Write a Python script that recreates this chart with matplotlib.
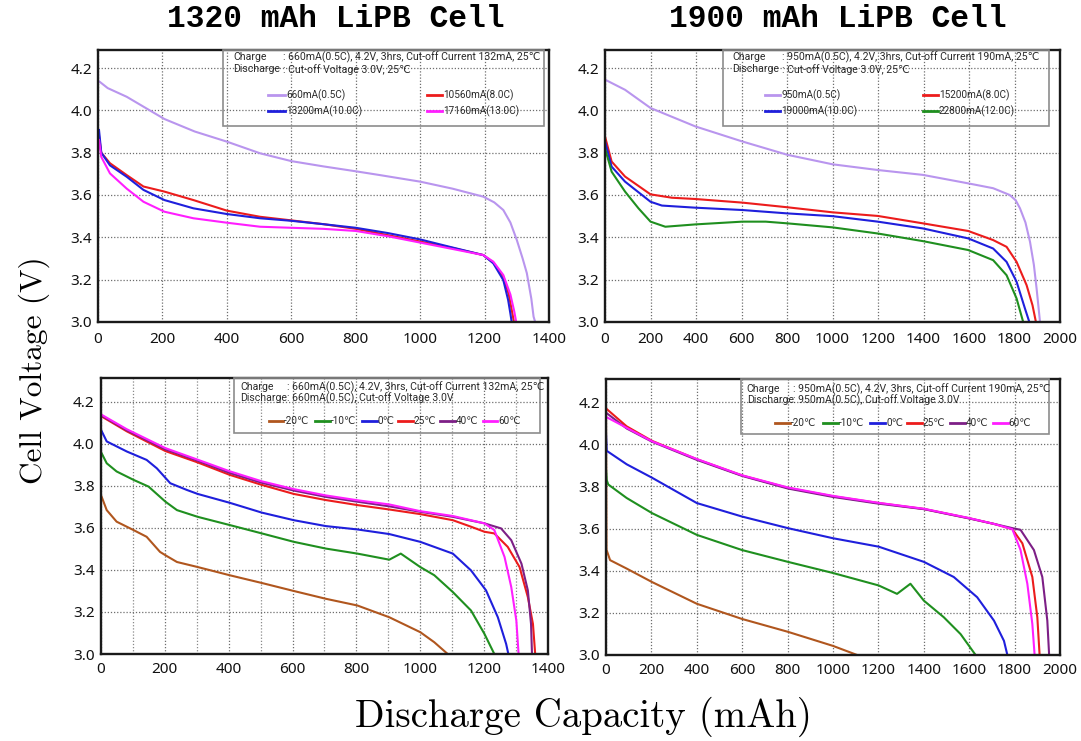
import matplotlib
matplotlib.use("Agg")
import matplotlib.pyplot as plt
from matplotlib.lines import Line2D
from matplotlib.patches import Rectangle

# ---------------- data: 1320 mAh cell, rate test ----------------
c1_rate_labels = ["660mA(0.5C)", "10560mA(8.0C)", "13200mA(10.0C)", "17160mA(13.0C)"]
c1_x_05C = [5, 30, 89, 206, 300, 400, 503, 600, 700, 800, 875, 1000, 1100, 1196, 1230, 1258, 1280, 1300, 1318, 1331, 1345, 1352, 1357]
c1_v_05C = [4.135, 4.105, 4.064, 3.959, 3.90, 3.852, 3.797, 3.76, 3.735, 3.712, 3.694, 3.663, 3.63, 3.592, 3.565, 3.529, 3.47, 3.387, 3.30, 3.231, 3.11, 3.025, 3.0]
c1_x_8C = [3, 10, 37, 89, 141, 206, 296, 400, 503, 600, 700, 800, 900, 1000, 1100, 1196, 1227, 1258, 1275, 1285, 1291]
c1_v_8C = [3.88, 3.80, 3.75, 3.694, 3.64, 3.616, 3.576, 3.526, 3.497, 3.48, 3.462, 3.44, 3.41, 3.38, 3.35, 3.316, 3.28, 3.215, 3.13, 3.05, 3.0]
c1_x_10C = [3, 10, 37, 89, 141, 206, 296, 400, 503, 600, 700, 800, 900, 1000, 1100, 1196, 1227, 1258, 1273, 1280, 1284]
c1_v_10C = [3.907, 3.80, 3.74, 3.686, 3.624, 3.576, 3.537, 3.51, 3.49, 3.478, 3.462, 3.445, 3.42, 3.39, 3.352, 3.316, 3.277, 3.198, 3.104, 3.04, 3.0]
c1_x_13C = [3, 10, 37, 89, 141, 206, 296, 400, 503, 600, 700, 800, 900, 1000, 1100, 1196, 1227, 1258, 1280, 1292, 1298]
c1_v_13C = [3.86, 3.78, 3.702, 3.63, 3.568, 3.521, 3.49, 3.469, 3.45, 3.445, 3.44, 3.43, 3.405, 3.375, 3.345, 3.316, 3.285, 3.222, 3.13, 3.05, 3.0]

# ---------------- data: 1900 mAh cell, rate test ----------------
c2_rate_labels = ["950mA(0.5C)", "15200mA(8.0C)", "19000mA(10.0C)", "22800mA(12.0C)"]
c2_x_05C = [0, 88, 200, 397, 603, 801, 1000, 1199, 1397, 1596, 1706, 1779, 1805, 1824, 1848, 1868, 1885, 1897, 1912]
c2_v_05C = [4.145, 4.097, 4.011, 3.924, 3.853, 3.79, 3.745, 3.718, 3.695, 3.655, 3.632, 3.60, 3.575, 3.537, 3.47, 3.379, 3.27, 3.158, 3.0]
c2_x_8C = [0, 29, 88, 200, 294, 397, 603, 801, 1000, 1199, 1397, 1596, 1706, 1765, 1809, 1853, 1879, 1894]
c2_v_8C = [3.876, 3.758, 3.687, 3.603, 3.587, 3.581, 3.564, 3.542, 3.518, 3.501, 3.466, 3.43, 3.387, 3.355, 3.284, 3.174, 3.079, 3.0]
c2_x_10C = [0, 29, 88, 200, 250, 397, 603, 801, 1000, 1199, 1397, 1596, 1706, 1765, 1809, 1846, 1865]
c2_v_10C = [3.853, 3.734, 3.663, 3.568, 3.55, 3.54, 3.529, 3.513, 3.50, 3.474, 3.442, 3.395, 3.347, 3.284, 3.19, 3.063, 3.0]
c2_x_12C = [0, 29, 88, 147, 200, 265, 397, 603, 706, 801, 1000, 1199, 1397, 1596, 1706, 1765, 1809, 1838]
c2_v_12C = [3.82, 3.71, 3.616, 3.537, 3.474, 3.45, 3.461, 3.474, 3.474, 3.466, 3.447, 3.418, 3.382, 3.34, 3.292, 3.221, 3.111, 3.0]

# ---------------- data: 1320 mAh cell, temperature test ----------------
temp_labels = ["-20℃", "-10℃", "0℃", "25℃", "40℃", "60℃"]
c1_x_m20 = [2, 18, 49, 102, 143, 185, 202, 238, 303, 403, 504, 604, 704, 803, 903, 1000, 1044, 1086]
c1_v_m20 = [3.749, 3.685, 3.63, 3.59, 3.558, 3.486, 3.47, 3.438, 3.414, 3.375, 3.338, 3.30, 3.263, 3.231, 3.175, 3.104, 3.056, 3.0]
c1_x_m10 = [2, 18, 49, 102, 149, 202, 238, 303, 403, 504, 604, 704, 803, 903, 939, 1000, 1044, 1102, 1159, 1201, 1232]
c1_v_m10 = [3.956, 3.908, 3.869, 3.829, 3.797, 3.725, 3.685, 3.653, 3.614, 3.574, 3.534, 3.502, 3.478, 3.449, 3.478, 3.414, 3.375, 3.295, 3.207, 3.096, 3.0]
c1_x_0 = [0, 18, 81, 143, 175, 217, 269, 303, 403, 504, 604, 704, 803, 903, 1000, 1102, 1159, 1206, 1243, 1269, 1276]
c1_v_0 = [4.068, 4.012, 3.964, 3.924, 3.884, 3.813, 3.781, 3.762, 3.72, 3.673, 3.637, 3.609, 3.593, 3.571, 3.534, 3.478, 3.398, 3.303, 3.175, 3.048, 3.0]
c1_x_25 = [2, 81, 202, 303, 403, 504, 604, 704, 803, 903, 1000, 1102, 1159, 1201, 1232, 1274, 1311, 1337, 1353, 1360]
c1_v_25 = [4.131, 4.06, 3.966, 3.912, 3.853, 3.805, 3.762, 3.733, 3.709, 3.688, 3.666, 3.637, 3.606, 3.582, 3.574, 3.51, 3.414, 3.271, 3.143, 3.0]
c1_x_40 = [2, 81, 202, 303, 403, 504, 604, 704, 803, 903, 1000, 1102, 1201, 1253, 1285, 1317, 1337, 1347, 1350]
c1_v_40 = [4.135, 4.065, 3.974, 3.92, 3.862, 3.815, 3.778, 3.748, 3.725, 3.703, 3.677, 3.653, 3.622, 3.598, 3.542, 3.43, 3.303, 3.143, 3.0]
c1_x_60 = [2, 81, 202, 303, 403, 504, 604, 704, 803, 903, 1000, 1102, 1201, 1232, 1264, 1285, 1301, 1308]
c1_v_60 = [4.139, 4.07, 3.98, 3.925, 3.87, 3.822, 3.785, 3.755, 3.732, 3.712, 3.68, 3.657, 3.622, 3.59, 3.462, 3.319, 3.159, 3.0]

# ---------------- data: 1900 mAh cell, temperature test ----------------
c2_x_m20 = [0, 2, 18, 91, 203, 400, 599, 801, 1000, 1106]
c2_v_m20 = [4.18, 3.50, 3.45, 3.41, 3.346, 3.243, 3.171, 3.11, 3.043, 3.0]
c2_x_m10 = [0, 3, 10, 91, 203, 400, 599, 801, 1000, 1201, 1282, 1341, 1400, 1488, 1562, 1628]
c2_v_m10 = [3.88, 3.83, 3.809, 3.745, 3.673, 3.57, 3.498, 3.442, 3.389, 3.33, 3.29, 3.338, 3.258, 3.179, 3.099, 3.0]
c2_x_0 = [0, 3, 91, 203, 400, 599, 801, 1000, 1201, 1400, 1532, 1635, 1709, 1753, 1768]
c2_v_0 = [4.05, 3.969, 3.905, 3.841, 3.721, 3.657, 3.602, 3.554, 3.514, 3.442, 3.37, 3.274, 3.163, 3.067, 3.0]
c2_x_25 = [0, 91, 203, 400, 599, 801, 1000, 1201, 1400, 1599, 1709, 1790, 1834, 1878, 1900, 1910]
c2_v_25 = [4.17, 4.085, 4.016, 3.929, 3.852, 3.793, 3.753, 3.721, 3.693, 3.649, 3.622, 3.597, 3.53, 3.37, 3.179, 3.0]
c2_x_40 = [0, 91, 203, 400, 599, 801, 1000, 1201, 1400, 1599, 1709, 1790, 1826, 1885, 1922, 1944, 1952]
c2_v_40 = [4.15, 4.075, 4.012, 3.926, 3.85, 3.79, 3.75, 3.718, 3.692, 3.648, 3.622, 3.602, 3.594, 3.498, 3.37, 3.163, 3.0]
c2_x_60 = [0, 91, 203, 400, 599, 801, 1000, 1201, 1400, 1599, 1709, 1790, 1826, 1856, 1878, 1888]
c2_v_60 = [4.13, 4.078, 4.014, 3.93, 3.853, 3.795, 3.755, 3.722, 3.694, 3.65, 3.622, 3.597, 3.498, 3.338, 3.147, 3.0]

panel_titles = ["1320 mAh LiPB Cell", "1900 mAh LiPB Cell"]
x_ticks_1320 = [0, 200, 400, 600, 800, 1000, 1200, 1400]
x_ticks_1900 = [0, 200, 400, 600, 800, 1000, 1200, 1400, 1600, 1800, 2000]
y_ticks = [3.0, 3.2, 3.4, 3.6, 3.8, 4.0, 4.2]

# ---------------- styling ----------------
C_VIOLET = "#b995ee"
C_RED = "#ec1c1c"
C_BLUE = "#1f1fdc"
C_MAGENTA = "#ff1eff"
C_GREEN = "#1f8f1f"
C_BROWN = "#b0561e"
C_PURPLE = "#7d1f86"
rate_colors_1 = [C_VIOLET, C_RED, C_BLUE, C_MAGENTA]
rate_colors_2 = [C_VIOLET, C_RED, C_BLUE, C_GREEN]
temp_colors = [C_BROWN, C_GREEN, C_BLUE, C_RED, C_PURPLE, C_MAGENTA]

LW = 1.5
TICK_FONT = "Noto Sans"
BOX_FONT = ["Roboto", "DejaVu Sans"]
HEAD_FS = 7.6
KEY_FS = 7.2

fig = plt.figure(figsize=(10.81, 7.41), dpi=100)
fig.patch.set_facecolor("white")

ax_tl = fig.add_axes([0.0907, 0.5655, 0.4172, 0.3670])
ax_tr = fig.add_axes([0.5597, 0.5655, 0.4209, 0.3670])
ax_bl = fig.add_axes([0.0934, 0.1174, 0.4135, 0.3725])
ax_br = fig.add_axes([0.5606, 0.1161, 0.4200, 0.3725])


def style_axes(ax, xmax, xticks, ytop, minor_x=False, xpad=7):
    ax.set_xlim(0, xmax)
    ax.set_ylim(3.0, ytop)
    ax.set_xticks(xticks)
    ax.set_yticks(y_ticks)
    ax.set_yticklabels([f"{v:.1f}" for v in y_ticks])
    if minor_x:
        ax.set_xticks([t + 100 for t in xticks[:-1]], minor=True)
        ax.grid(True, which="minor", axis="x", linestyle=(0, (1, 1.5)),
                color="#8a8a8a", linewidth=0.9)
    ax.grid(True, which="major", linestyle=(0, (1, 1.5)), color="#6e6e6e", linewidth=0.9)
    ax.set_axisbelow(True)
    ax.tick_params(axis="both", which="both", length=0)
    ax.tick_params(axis="x", pad=xpad)
    ax.tick_params(axis="y", pad=4.5)
    for lab in ax.get_xticklabels() + ax.get_yticklabels():
        lab.set_fontfamily(TICK_FONT)
        lab.set_fontsize(11)
        lab.set_color("#111111")
    for sp in ax.spines.values():
        sp.set_linewidth(1.7)
        sp.set_color("#1a1a1a")


def info_box(ax, x0, x1, y0, charge_txt, discharge_txt, tx, cx, ty1, ty2):
    ax.add_patch(Rectangle((x0, y0), x1 - x0, 1.0 - y0, transform=ax.transAxes,
                           facecolor="none", edgecolor="#8c8c8c", linewidth=1.2,
                           zorder=5, clip_on=False))
    kw = dict(transform=ax.transAxes, fontsize=HEAD_FS, family=BOX_FONT,
              color="#2a2a2a", va="center", ha="left", zorder=6)
    ax.text(tx, ty1, "Charge", **kw)
    ax.text(cx, ty1, charge_txt, **kw)
    ax.text(tx, ty2, "Discharge", **kw)
    ax.text(cx, ty2, discharge_txt, **kw)


def key_entry(ax, xa, xb, y, color, label):
    ax.add_line(Line2D([xa, xb], [y, y], transform=ax.transAxes, color=color,
                       linewidth=2.0, zorder=6))
    ax.text(xb + 0.002, y, label, transform=ax.transAxes, fontsize=KEY_FS,
            family=BOX_FONT, color="#2a2a2a", va="center", ha="left", zorder=6)


# ---- top left: 1320 mAh rates ----
for xs, vs, c in zip([c1_x_05C, c1_x_8C, c1_x_10C, c1_x_13C],
                     [c1_v_05C, c1_v_8C, c1_v_10C, c1_v_13C], rate_colors_1):
    ax_tl.plot(xs, vs, color=c, linewidth=LW, solid_joinstyle="round")
style_axes(ax_tl, 1400, x_ticks_1320, 4.285, xpad=7)
info_box(ax_tl, 0.277, 0.989, 0.7206,
         ": 660mA(0.5C), 4.2V, 3hrs, Cut-off Current 132mA, 25℃",
         ": Cut-off Voltage 3.0V, 25℃", 0.299, 0.410, 0.974, 0.930)
key_entry(ax_tl, 0.377, 0.415, 0.8346, rate_colors_1[0], c1_rate_labels[0])
key_entry(ax_tl, 0.729, 0.763, 0.8346, rate_colors_1[1], c1_rate_labels[1])
key_entry(ax_tl, 0.377, 0.415, 0.7757, rate_colors_1[2], c1_rate_labels[2])
key_entry(ax_tl, 0.729, 0.763, 0.7757, rate_colors_1[3], c1_rate_labels[3])

# ---- top right: 1900 mAh rates ----
for xs, vs, c in zip([c2_x_05C, c2_x_8C, c2_x_10C, c2_x_12C],
                     [c2_v_05C, c2_v_8C, c2_v_10C, c2_v_12C], rate_colors_2):
    ax_tr.plot(xs, vs, color=c, linewidth=LW, solid_joinstyle="round")
style_axes(ax_tr, 2000, x_ticks_1900, 4.285, xpad=7)
info_box(ax_tr, 0.259, 0.976, 0.7206,
         ": 950mA(0.5C), 4.2V, 3hrs, Cut-off Current 190mA, 25℃",
         ": Cut-off Voltage 3.0V, 25℃", 0.279, 0.389, 0.974, 0.930)
key_entry(ax_tr, 0.352, 0.385, 0.8346, rate_colors_2[0], c2_rate_labels[0])
key_entry(ax_tr, 0.699, 0.732, 0.8346, rate_colors_2[1], c2_rate_labels[1])
key_entry(ax_tr, 0.352, 0.385, 0.7757, rate_colors_2[2], c2_rate_labels[2])
key_entry(ax_tr, 0.699, 0.732, 0.7757, rate_colors_2[3], c2_rate_labels[3])

# ---- bottom left: 1320 mAh temperatures ----
for xs, vs, c in zip([c1_x_m20, c1_x_m10, c1_x_0, c1_x_25, c1_x_40, c1_x_60],
                     [c1_v_m20, c1_v_m10, c1_v_0, c1_v_25, c1_v_40, c1_v_60], temp_colors):
    ax_bl.plot(xs, vs, color=c, linewidth=LW, solid_joinstyle="round")
style_axes(ax_bl, 1400, x_ticks_1320, 4.314, minor_x=True, xpad=6)
info_box(ax_bl, 0.2975, 0.982, 0.8007,
         ": 660mA(0.5C), 4.2V, 3hrs, Cut-off Current 132mA, 25℃",
         ": 660mA(0.5C), Cut-off Voltage 3.0V", 0.311, 0.4155, 0.967, 0.9275)
for (xa, xb), c, lab in zip([(0.376, 0.407), (0.479, 0.512), (0.584, 0.617),
                             (0.665, 0.698), (0.758, 0.792), (0.855, 0.886)],
                            temp_colors, temp_labels):
    key_entry(ax_bl, xa, xb, 0.844, c, lab)

# ---- bottom right: 1900 mAh temperatures ----
for xs, vs, c in zip([c2_x_m20, c2_x_m10, c2_x_0, c2_x_25, c2_x_40, c2_x_60],
                     [c2_v_m20, c2_v_m10, c2_v_0, c2_v_25, c2_v_40, c2_v_60], temp_colors):
    ax_br.plot(xs, vs, color=c, linewidth=LW, solid_joinstyle="round")
style_axes(ax_br, 2000, x_ticks_1900, 4.31, xpad=6)
info_box(ax_br, 0.297, 0.976, 0.8007,
         ": 950mA(0.5C), 4.2V, 3hrs, Cut-off Current 190mA, 25℃",
         ": 950mA(0.5C), Cut-off Voltage 3.0V", 0.31, 0.412, 0.964, 0.924)
for (xa, xb), c, lab in zip([(0.372, 0.405), (0.478, 0.511), (0.581, 0.615),
                             (0.663, 0.696), (0.758, 0.791), (0.852, 0.885)],
                            temp_colors, temp_labels):
    key_entry(ax_br, xa, xb, 0.8406, c, lab)

# ---- titles and shared axis labels ----
fig.text(0.311, 0.975, panel_titles[0], family="Liberation Mono", weight="bold",
         fontsize=22.5, ha="center", va="center")
fig.text(0.775, 0.975, panel_titles[1], family="Liberation Mono", weight="bold",
         fontsize=22.5, ha="center", va="center")
fig.text(0.032, 0.500, "Cell Voltage (V)", family="cmr10", fontsize=22.5,
         rotation=90, ha="center", va="center")
fig.text(0.540, 0.033, "Discharge Capacity (mAh)", family="cmr10", fontsize=28,
         ha="center", va="center")

fig.savefig("out.png", dpi=100, facecolor="white")
